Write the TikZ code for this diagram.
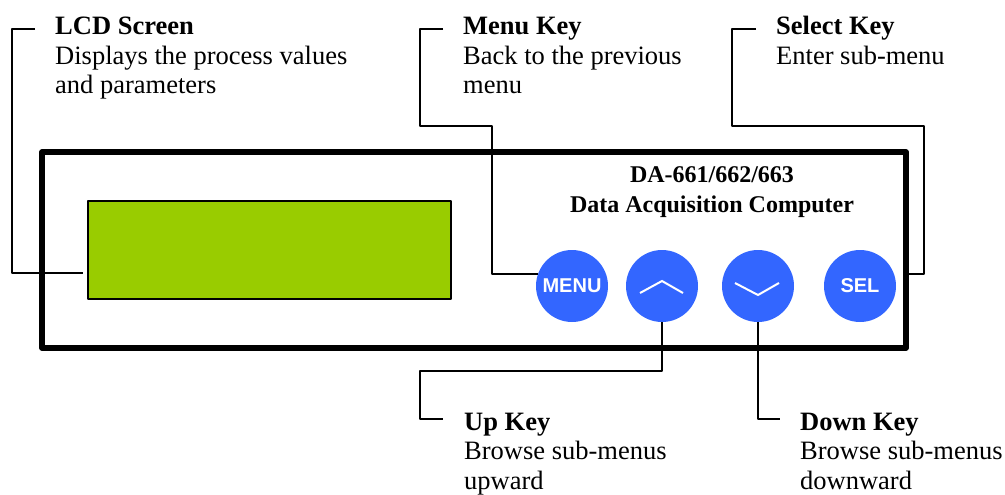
\documentclass[tikz,border=0pt]{standalone}
\usepackage{fontspec}
\setmainfont{Liberation Serif}
\newfontfamily\keyfont{Liberation Sans}
\definecolor{lcdgreen}{HTML}{99CC00}
\definecolor{keyblue}{HTML}{3366FF}

\begin{document}
\begin{tikzpicture}[x=1pt,y=-1pt,join=round,
    lead/.style={line width=2pt},
    keybtn/.style={circle,fill=keyblue,minimum size=72pt,inner sep=0pt,
      text=white,font=\keyfont\bfseries\fontsize{20}{20}\selectfont},
    chev/.style={white,line width=2pt,join=miter},
    note/.style={anchor=base west,align=left,inner sep=0pt,
      font=\fontsize{26.5}{29.5}\selectfont}]
          \useasboundingbox (0,0) rectangle (1005,495);
          \node[draw,line width=5.5pt,minimum width=864pt,minimum height=196pt,inner sep=0pt] (panel) at (474,250) {};
          \node[draw,fill=lcdgreen,line width=1.5pt,minimum width=363pt,minimum height=98pt,inner sep=0pt] (lcd) at (269.5,250) {};
          % base anchor sits on the last line
          \node[align=center,inner sep=0pt,anchor=base,font=\bfseries\fontsize{24}{30}\selectfont] (title) at (712,212)
                {DA-661/662/663\\Data Acquisition Computer};
          \node[keybtn] (menu) at (572,286) {MENU};
          \node[keybtn] (up) at (662,286) {};
          \node[keybtn] (down) at (758,286) {};
          \node[keybtn] (sel) at (860,286) {SEL};
          \draw[chev] (up) ++(-22,7) -- ++(22,-12) -- ++(21,12);
          \draw[chev] (down) ++(-23,-3) -- ++(23,12) -- ++(21,-12);
          \node[note] (lcdlbl) at (55,94) {\textbf{LCD Screen}\\Displays the process values\\and parameters};
          \node[note] (menulbl) at (463,94) {\textbf{Menu Key}\\Back to the previous\\menu};
          \node[note] (sellbl) at (776,64.5) {\textbf{Select Key}\\Enter sub-menu};
          \node[note] (uplbl) at (464,489) {\textbf{Up Key}\\Browse sub-menus\\upward};
          \node[note] (downlbl) at (800,489) {\textbf{Down Key}\\Browse sub-menus\\downward};
          \coordinate (lcdtop) at (35,29);
          \coordinate (lcdtip) at (83,273);
          \coordinate (menutop) at (443,29);
          \coordinate (seltop) at (756,29);
          \coordinate (uptip) at (443,419);
          \coordinate (downtip) at (780,419);
          \draw[lead] (lcdtop) -- ++(-23,0) |- (lcdtip);
          \draw[lead] (menutop) -- ++(-23,0) |- (492,126) |- (menu.160);
          \draw[lead] (seltop) -- ++(-24,0) |- (924,126) |- (sel.20 -| panel.east);
          \draw[lead] (up.south) |- (420,371) |- (uptip);
          \draw[lead] (down.south) |- (downtip);
\end{tikzpicture}
\end{document}
